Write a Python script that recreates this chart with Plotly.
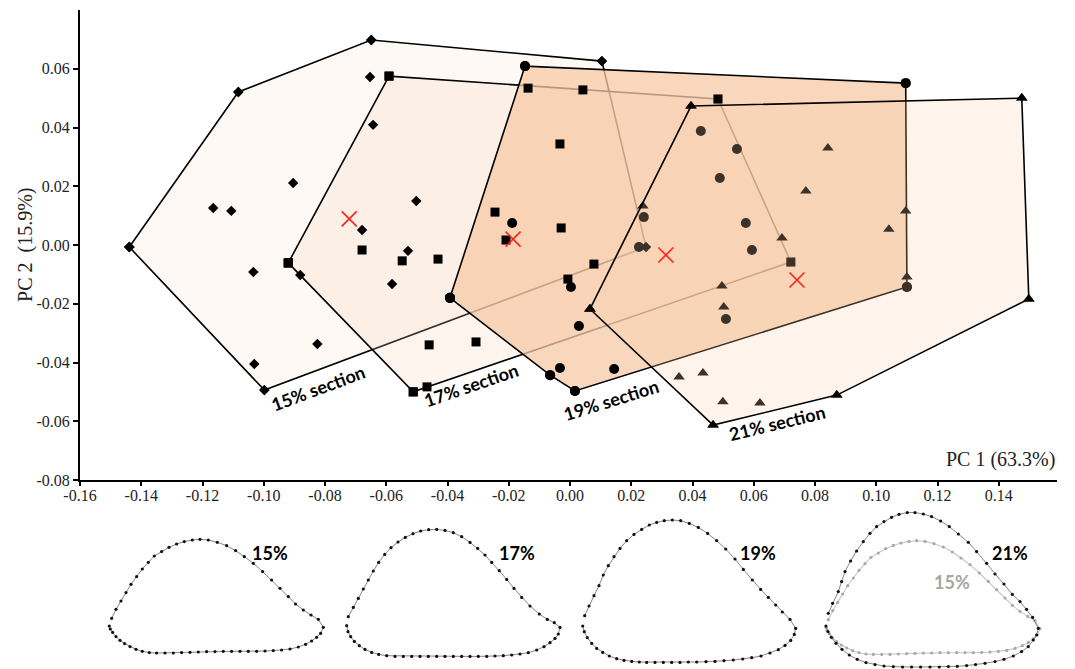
import plotly.graph_objects as go

# ---------------------------------------------------------------
# PCA scores (PC1, PC2) of cross-section shapes, one list per section
# ---------------------------------------------------------------
pc1_s15 = [-0.1439, -0.1083, -0.0649, 0.0104, 0.0248, -0.0998, -0.0653, -0.0643,
           -0.0904, -0.1165, -0.1106, -0.0502, -0.0679, -0.0529, -0.0581, -0.1034,
           -0.0881, -0.0825, -0.1031]
pc2_s15 = [-0.0007, 0.0521, 0.0698, 0.0626, -0.0007, -0.0494, 0.0572, 0.0409,
           0.0211, 0.0126, 0.0116, 0.0150, 0.0051, -0.0020, -0.0133, -0.0092,
           -0.0102, -0.0337, -0.0405]

pc1_s17 = [-0.0591, -0.0137, 0.0042, 0.0483, 0.0721, -0.0467, -0.0512, -0.0920,
           -0.0033, -0.0245, -0.0029, -0.0209, -0.0679, -0.0548, -0.0431, 0.0078,
           -0.0007, -0.0460, -0.0307]
pc2_s17 = [0.0575, 0.0534, 0.0528, 0.0497, -0.0058, -0.0483, -0.0500, -0.0061,
           0.0344, 0.0112, 0.0058, 0.0017, -0.0017, -0.0054, -0.0048, -0.0065,
           -0.0116, -0.0340, -0.0330]

pc1_s19 = [-0.0147, 0.1096, 0.1100, 0.0016, -0.0065, -0.0392, -0.0189, 0.0003,
           0.0029, -0.0033, 0.0144, 0.0225, 0.0241, 0.0427, 0.0545, 0.0489,
           0.0574, 0.0594, 0.0509]
pc2_s19 = [0.0609, 0.0551, -0.0143, -0.0497, -0.0443, -0.0180, 0.0075, -0.0143,
           -0.0276, -0.0419, -0.0422, -0.0007, 0.0095, 0.0388, 0.0327, 0.0228,
           0.0075, -0.0017, -0.0252]

pc1_s21 = [0.0395, 0.1475, 0.1498, 0.0871, 0.0467, 0.0065, 0.0238, 0.0842,
           0.0770, 0.1096, 0.1041, 0.0692, 0.1100, 0.0496, 0.0502, 0.0356,
           0.0434, 0.0499, 0.0620]
pc2_s21 = [0.0473, 0.0500, -0.0184, -0.0511, -0.0613, -0.0218, 0.0133, 0.0330,
           0.0184, 0.0116, 0.0054, 0.0024, -0.0109, -0.0140, -0.0211, -0.0449,
           -0.0436, -0.0534, -0.0538]

# group means
centroid_pc1 = [-0.0721, -0.0186, 0.0313, 0.0741]
centroid_pc2 = [0.0089, 0.0020, -0.0034, -0.0119]

section_names = ["15% section", "17% section", "19% section", "21% section"]
shape_names = ["15%", "17%", "19%", "21%"]

x_tick_vals = [-0.16, -0.14, -0.12, -0.10, -0.08, -0.06, -0.04, -0.02, 0.00,
               0.02, 0.04, 0.06, 0.08, 0.10, 0.12, 0.14]
x_tick_text = ["-0.16", "-0.14", "-0.12", "-0.10", "-0.08", "-0.06", "-0.04", "-0.02",
               "0.00", "0.02", "0.04", "0.06", "0.08", "0.10", "0.12", "0.14"]
y_tick_vals = [-0.08, -0.06, -0.04, -0.02, 0.00, 0.02, 0.04, 0.06]
y_tick_text = ["-0.08", "-0.06", "-0.04", "-0.02", "0.00", "0.02", "0.04", "0.06"]

# ---------------------------------------------------------------
# Mean outline (semi-landmarks) of each section, local units
# ---------------------------------------------------------------
outline15_x = [2.3, 6.7, 11.7, 16.7, 21.7, 27.3, 33.0, 39.0, 45.0, 52.3, 59.7, 67.3, 75.0,
               83.0, 90.7, 99.0, 108.0, 117.3, 126.3, 135.0, 144.0, 153.3, 162.3, 170.7,
               179.0, 186.3, 194.0, 201.7, 209.0, 214.0, 211.3, 207.3, 202.3, 196.3, 189.0,
               180.7, 172.3, 164.0, 155.7, 147.3, 139.0, 130.7, 122.3, 114.0, 105.7, 97.3,
               89.0, 80.7, 72.3, 64.0, 55.7, 47.3, 40.0, 33.0, 26.7, 20.7, 15.3, 10.7,
               6.7, 3.3, 1.0, 0.0]
outline15_y = [35.0, 44.0, 52.3, 60.7, 69.0, 76.7, 84.3, 91.0, 97.3, 101.7, 106.0, 109.3,
               111.7, 113.3, 114.0, 113.3, 111.0, 107.7, 102.7, 96.7, 90.0, 81.7, 73.3,
               65.0, 56.7, 49.3, 43.3, 38.3, 34.0, 26.0, 20.0, 16.0, 12.3, 9.0, 6.3, 4.3,
               3.3, 2.7, 2.3, 2.0, 2.0, 2.0, 2.0, 2.0, 1.7, 1.7, 1.3, 1.0, 0.7, 0.3, 0.3,
               0.3, 0.7, 2.0, 4.0, 6.7, 9.7, 13.0, 16.7, 21.0, 24.3, 27.3]

outline17_x = [2.3, 7.3, 12.3, 17.3, 22.3, 27.3, 32.7, 38.7, 45.0, 52.0, 59.3, 67.0, 74.7,
               82.7, 90.7, 99.0, 107.3, 115.7, 124.0, 131.7, 139.0, 145.7, 153.3, 160.7,
               168.0, 175.7, 184.0, 193.3, 201.3, 208.3, 214.0, 212.3, 209.0, 204.0, 198.0,
               190.7, 182.3, 174.0, 165.7, 157.3, 149.0, 140.7, 132.3, 124.0, 115.7, 107.3,
               99.0, 90.7, 82.3, 74.0, 65.7, 57.3, 49.0, 40.7, 32.7, 25.7, 19.0, 13.3, 8.3,
               4.7, 2.0, 0.7]
outline17_y = [40.0, 49.3, 58.3, 67.7, 76.7, 85.7, 94.3, 102.3, 109.0, 114.7, 119.3, 123.0,
               125.7, 127.0, 127.3, 126.3, 124.0, 120.0, 114.3, 108.3, 101.7, 94.3, 86.0,
               77.3, 68.3, 59.3, 50.7, 42.7, 37.3, 34.0, 29.3, 22.7, 18.3, 14.0, 10.0, 6.7,
               4.0, 2.7, 1.7, 1.0, 0.7, 0.3, 0.3, 0.3, 0.3, 0.3, 0.3, 0.3, 0.3, 0.3, 0.3,
               0.3, 0.3, 1.0, 2.3, 4.3, 7.3, 11.0, 15.3, 20.0, 25.0, 31.0]

outline19_x = [2.7, 7.0, 12.0, 17.0, 21.3, 26.3, 32.0, 38.0, 44.7, 52.0, 59.7, 67.3, 74.7,
               82.3, 90.3, 98.7, 107.3, 116.3, 125.7, 134.7, 143.7, 153.0, 161.3, 170.3,
               178.7, 186.3, 193.7, 200.3, 208.0, 213.7, 212.3, 208.7, 203.0, 196.3, 188.0,
               179.0, 169.7, 160.7, 151.3, 142.0, 133.0, 124.0, 114.7, 106.3, 98.0, 89.7,
               81.3, 73.0, 64.7, 57.3, 49.7, 42.0, 34.7, 27.3, 20.7, 14.7, 9.7, 5.3, 2.3,
               0.7]
outline19_y = [47.0, 56.7, 67.0, 77.0, 87.7, 97.0, 106.0, 114.3, 122.0, 128.3, 133.3,
               137.7, 140.3, 142.0, 142.7, 142.0, 139.3, 135.3, 129.3, 122.0, 113.7, 103.7,
               93.3, 82.7, 73.3, 65.3, 57.7, 50.7, 43.3, 34.3, 28.3, 22.3, 17.3, 13.0, 9.7,
               6.7, 5.0, 3.7, 2.7, 2.0, 1.3, 1.0, 0.7, 0.7, 0.3, 0.3, 0.3, 0.3, 0.3, 0.7,
               1.3, 2.3, 4.0, 6.7, 10.3, 14.3, 19.3, 25.0, 31.0, 36.7]

outline21_x = [3.0, 7.3, 13.0, 16.3, 19.7, 25.3, 31.3, 38.0, 44.7, 51.3, 58.7, 66.3, 73.7,
               82.0, 89.7, 98.0, 106.3, 115.3, 124.0, 133.0, 143.0, 151.3, 161.3, 169.7,
               178.7, 187.0, 194.7, 201.3, 207.3, 213.0, 211.3, 208.0, 203.0, 196.3, 188.0,
               178.7, 169.7, 159.7, 150.3, 141.3, 132.0, 123.0, 114.0, 104.7, 95.3, 86.3,
               77.3, 68.0, 58.7, 49.7, 40.7, 32.0, 24.0, 16.7, 10.7, 6.0, 2.7, 0.7]
outline21_y = [54.0, 64.0, 75.7, 85.7, 95.7, 106.3, 116.3, 125.7, 134.0, 140.7, 145.7,
               150.0, 153.0, 154.7, 154.7, 153.3, 150.7, 146.3, 140.7, 133.3, 125.0, 115.7,
               104.0, 93.3, 83.3, 73.0, 65.7, 58.0, 50.0, 39.0, 32.3, 27.3, 20.7, 15.7,
               11.3, 8.0, 5.7, 4.0, 2.7, 1.7, 1.0, 0.7, 0.3, 0.3, 0.3, 0.3, 0.3, 0.7, 1.3,
               2.7, 4.7, 8.0, 12.3, 18.0, 24.0, 30.0, 35.7, 41.3]

# ---------------------------------------------------------------
# Styling
# ---------------------------------------------------------------
symbols = ["diamond", "square", "circle", "triangle-up"]
marker_sizes = [8, 9, 10, 10]
fill_colors = ["rgba(248,203,173,0.12)", "rgba(248,203,173,0.22)",
               "rgba(247,201,166,0.75)", "rgba(250,207,172,0.24)"]
label_pos = [(-0.0822, -0.0487, -20.5), (-0.0323, -0.0477, -19.0),
             (0.0134, -0.0528, -17.4), (0.0675, -0.0606, -13.6)]
LABEL_FONT = "Lato"
SERIF = "Liberation Serif"


def convex_hull(xs, ys):
    pts = sorted(set(zip(xs, ys)))

    def cross(o, a, b):
        return (a[0] - o[0]) * (b[1] - o[1]) - (a[1] - o[1]) * (b[0] - o[0])

    lower, upper = [], []
    for p in pts:
        while len(lower) >= 2 and cross(lower[-2], lower[-1], p) <= 0:
            lower.pop()
        lower.append(p)
    for p in reversed(pts):
        while len(upper) >= 2 and cross(upper[-2], upper[-1], p) <= 0:
            upper.pop()
        upper.append(p)
    hull = lower[:-1] + upper[:-1]
    hull.append(hull[0])
    return [p[0] for p in hull], [p[1] for p in hull]


groups = [(pc1_s15, pc2_s15), (pc1_s17, pc2_s17), (pc1_s19, pc2_s19), (pc1_s21, pc2_s21)]

fig = go.Figure()


def hull_trace(i):
    hx, hy = convex_hull(*groups[i])
    return go.Scatter(
        x=hx, y=hy, mode="lines+markers", fill="toself",
        fillcolor=fill_colors[i], line=dict(color="black", width=1.6),
        marker=dict(symbol=symbols[i], size=marker_sizes[i], color="black"),
        hoverinfo="skip", showlegend=False)


def point_trace(i):
    x, y = groups[i]
    return go.Scatter(
        x=x, y=y, mode="markers",
        marker=dict(symbol=symbols[i], size=marker_sizes[i], color="black"),
        name=shape_names[i], showlegend=False)


# hulls of the first three sections, then their points on top
for i in range(3):
    fig.add_trace(hull_trace(i))
for i in range(4):
    fig.add_trace(point_trace(i))
# the 21% hull is laid over everything beneath it
fig.add_trace(hull_trace(3))

# group means
fig.add_trace(go.Scatter(
    x=centroid_pc1, y=centroid_pc2, mode="markers",
    marker=dict(symbol="x-thin", size=15, line=dict(color="#ff2020", width=1.6)),
    showlegend=False))

# ---------------------------------------------------------------
# Outline panels below the score plot
# ---------------------------------------------------------------
panel_offsets = [(29.3, 15.7), (266.0, 12.3), (502.0, 6.3), (745.3, 1.7)]
overlay_offset = (746.0, 14.3)
outlines = [(outline15_x, outline15_y), (outline17_x, outline17_y),
            (outline19_x, outline19_y), (outline21_x, outline21_y)]
shape_label_pos = [(190, 116), (437, 116), (678, 116), (930, 116)]

# 15% outline repeated in the 21% panel for comparison
ox, oy = overlay_offset
fig.add_trace(go.Scatter(
    x=[v + ox for v in outline15_x], y=[v + oy for v in outline15_y],
    xaxis="x2", yaxis="y2", mode="lines+markers", cliponaxis=False,
    line=dict(color="#c8c8c8", width=1.1),
    marker=dict(size=3.2, color="#a9a9a9"), showlegend=False, hoverinfo="skip"))

for (lx, ly), (dx, dy) in zip(outlines, panel_offsets):
    fig.add_trace(go.Scatter(
        x=[v + dx for v in lx], y=[v + dy for v in ly],
        xaxis="x2", yaxis="y2", mode="lines+markers", cliponaxis=False,
        line=dict(color="#777777", width=0.9),
        marker=dict(size=3.2, color="#111111"), showlegend=False, hoverinfo="skip"))

annotations = []
for name, (ax_, ay_) in zip(shape_names, shape_label_pos):
    annotations.append(dict(x=ax_, y=ay_, xref="x2", yref="y2", text=f"<b>{name}</b>",
                            showarrow=False, font=dict(family=LABEL_FONT, size=18, color="black")))
annotations.append(dict(x=872, y=87, xref="x2", yref="y2", text="<b>15%</b>",
                        showarrow=False, font=dict(family=LABEL_FONT, size=18, color="#a6a6a6")))

for name, (lx, ly, ang) in zip(section_names, label_pos):
    annotations.append(dict(x=lx, y=ly, xref="x", yref="y", text=f"<b>{name}</b>",
                            textangle=ang, showarrow=False,
                            font=dict(family=LABEL_FONT, size=18, color="black")))

annotations.append(dict(x=0.159, y=-0.0729, xref="x", yref="y", text="PC 1 (63.3%)",
                        xanchor="right", showarrow=False,
                        font=dict(family=SERIF, size=20, color="#222222")))
annotations.append(dict(x=-0.0563, y=0.0, xref="paper", yref="y",
                        text="PC 2\u00a0 (15.9%)", textangle=-90, showarrow=False,
                        xanchor="center", yanchor="middle",
                        font=dict(family=SERIF, size=20, color="#222222")))

fig.update_layout(
    width=1075, height=669, autosize=False,
    margin=dict(l=80, r=18, t=10, b=0, autoexpand=False),
    paper_bgcolor="white", plot_bgcolor="white",
    annotations=annotations,
    xaxis=dict(range=[-0.16, 0.159], tickvals=x_tick_vals, ticktext=x_tick_text,
               showgrid=False, zeroline=False, showline=True, linecolor="black",
               linewidth=2, ticks="outside", ticklen=4, tickwidth=1.5, tickcolor="black",
               ticklabelstandoff=-4,
               tickfont=dict(family=SERIF, size=16, color="#222222"), anchor="y",
               automargin=False),
    yaxis=dict(range=[-0.08, 0.08], domain=[0.2868, 1.0], tickvals=y_tick_vals,
               ticktext=y_tick_text, showgrid=False, zeroline=False, showline=True,
               linecolor="black", linewidth=2, ticks="outside", ticklen=5,
               tickwidth=1.5, tickcolor="black",
               tickfont=dict(family=SERIF, size=16, color="#222222"), anchor="x",
               automargin=False),
    xaxis2=dict(range=[0, 977], domain=[0, 1], anchor="y2", visible=False,
                automargin=False),
    yaxis2=dict(range=[0, 165], domain=[0, 165 / 659], anchor="x2", visible=False,
                automargin=False),
)

fig.write_html("out.html")
